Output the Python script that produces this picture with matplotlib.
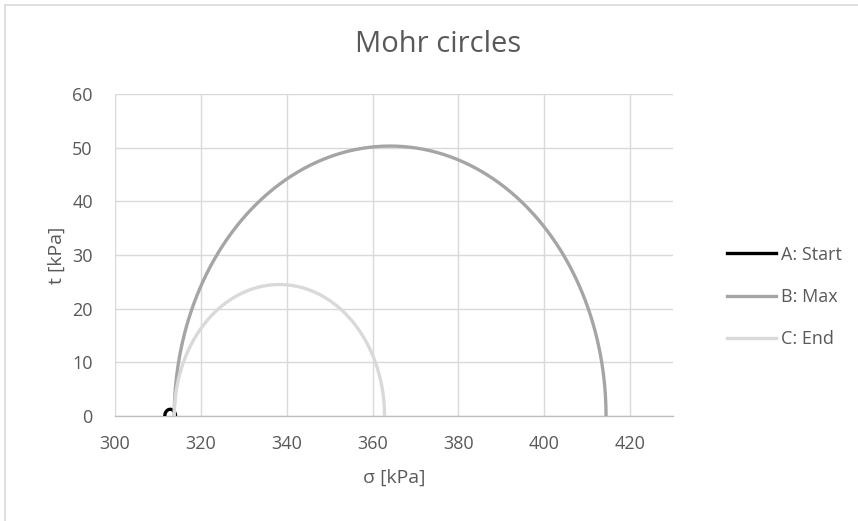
import numpy as np
import matplotlib
matplotlib.use("Agg")
import matplotlib.pyplot as plt
from matplotlib.lines import Line2D

plt.rcParams['font.family'] = ['Open Sans', 'DejaVu Sans']

# Principal stresses (sigma_3, sigma_1) in kPa for each state
states = ["A: Start", "B: Max", "C: End"]
sigma3 = [311.6, 313.8, 313.8]
sigma1 = [314.1, 414.4, 362.8]
colors = ["#000000", "#a5a5a5", "#d9d9d9"]

x_ticks = [300, 320, 340, 360, 380, 400, 420]
y_ticks = [0, 10, 20, 30, 40, 50, 60]

txt = "#595959"

fig = plt.figure(figsize=(8.58, 5.21), dpi=100)
ax = fig.add_axes([115 / 858, 1 - 416 / 521, (673 - 115) / 858, (416 - 94) / 521])

theta = np.linspace(0, np.pi, 400)
for name, s3, s1, c in zip(states, sigma3, sigma1, colors):
    center = (s1 + s3) / 2
    radius = (s1 - s3) / 2
    ax.plot(center + radius * np.cos(theta), radius * np.sin(theta),
            color=c, lw=2.4, solid_capstyle='butt', label=name, zorder=3)

ax.set_xlim(300, 430)
ax.set_ylim(0, 60)
ax.set_xticks(x_ticks)
ax.set_yticks(y_ticks)
ax.grid(True, color="#d9d9d9", lw=1.0, zorder=0)
ax.set_axisbelow(True)
for side in ["top", "right", "left"]:
    ax.spines[side].set_visible(False)
ax.spines["bottom"].set_color("#bfbfbf")
ax.spines["bottom"].set_linewidth(1.0)
ax.tick_params(axis="both", length=0, colors=txt, labelsize=13)
ax.tick_params(axis="x", pad=14)
ax.tick_params(axis="y", pad=16)

ax.set_xlabel("σ [kPa]", color=txt, fontsize=14)
ax.set_ylabel("t [kPa]", color=txt, fontsize=14)
ax.xaxis.set_label_coords((394 - 115) / (673 - 115), -(469 - 416) / (416 - 94))
ax.yaxis.set_label_coords(-(115 - 66) / (673 - 115), (416 - 255) / (416 - 94))
fig.text(438 / 858, 1 - 45 / 521, "Mohr circles", ha="center", va="center",
         color=txt, fontsize=21)

handles = [Line2D([0], [0], color=c, lw=2.4) for c in colors]
leg = fig.legend(handles, states, loc="center left",
                 bbox_to_anchor=(711 / 858, 1 - 297 / 521),
                 frameon=False, fontsize=13, handlelength=2.7,
                 handletextpad=0.3, labelspacing=1.35, labelcolor=txt)

# chart area border
fig.add_artist(Line2D([5 / 858, 5 / 858], [0, 1 - 5 / 521], color="#d9d9d9", lw=1.2))
fig.add_artist(Line2D([5 / 858, 1], [1 - 5 / 521, 1 - 5 / 521], color="#d9d9d9", lw=1.2))

fig.savefig("out.png", dpi=100, facecolor="white")
